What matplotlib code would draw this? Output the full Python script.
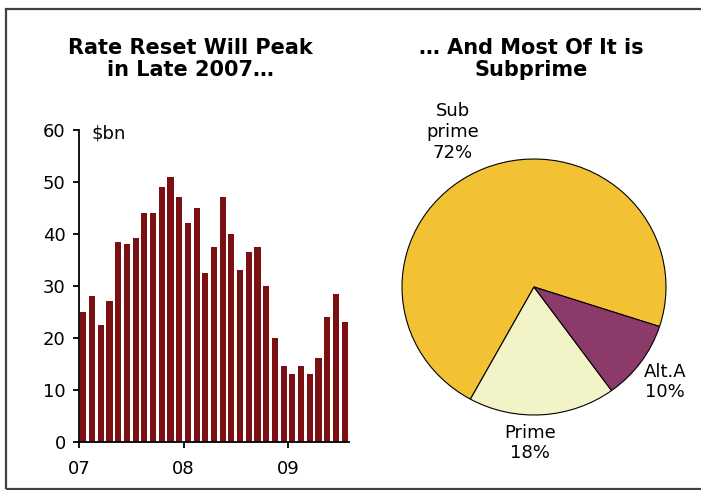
import matplotlib
matplotlib.use("Agg")
import matplotlib.pyplot as plt
from matplotlib.patches import Rectangle
import numpy as np

# Monthly ARM rate resets, Jan 2007 - Jul 2009 ($bn)
reset_values = [25, 28, 22.5, 27, 38.5, 38, 39.2, 44, 44, 49, 51, 47,
                42, 45, 32.5, 37.5, 47, 40, 33, 36.5, 37.5, 30, 20, 14.6,
                13, 14.6, 13, 16, 24, 28.5, 23]
year_ticks = [0, 12, 24]
year_labels = ["07", "08", "09"]
y_ticks = [0, 10, 20, 30, 40, 50, 60]

# Share of resets by loan type
pie_labels = ["Sub\nprime\n72%", "Prime\n18%", "Alt.A\n10%"]
pie_shares = [72, 18, 10]
pie_colors = ["#F2C134", "#F3F3C8", "#8C3A6A"]

BAR_COLOR = "#7A1012"
W, H = 701, 490
FS = 13
TITLE_FS = 15

plt.rcParams["font.family"] = ["DejaVu Sans"]
fig = plt.figure(figsize=(W / 100, H / 100), dpi=100)

def fx(px):
    return px / W

def fy(py):
    return 1 - py / H

# outer frame
fig.patches.append(Rectangle((fx(6), fy(489)), fx(720 - 6), fy(9) - fy(489),
                             transform=fig.transFigure, fill=False,
                             edgecolor="#404040", linewidth=1.6))

# ---- bar chart ----
left, right, top, bottom = 79, 349, 130, 441.5
ax = fig.add_axes([fx(left), fy(bottom), fx(right - left), fy(top) - fy(bottom)])
x = np.arange(len(reset_values)) + 0.5
ax.bar(x, reset_values, width=0.7, color=BAR_COLOR, zorder=2)
ax.set_xlim(0, len(reset_values))
ax.set_ylim(0, 60)
ax.set_yticks(y_ticks)
ax.set_xticks(year_ticks)
ax.set_xticklabels(year_labels)
for s in ["top", "right"]:
    ax.spines[s].set_visible(False)
for s in ["left", "bottom"]:
    ax.spines[s].set_linewidth(1.3)
    ax.spines[s].set_zorder(3)
ax.tick_params(axis="y", direction="out", length=4.5, width=1.3, labelsize=FS, pad=5)
ax.tick_params(axis="x", direction="out", length=4.5, width=1.3, labelsize=FS, pad=8.5)
ax.text(0.045, 0.99, "$bn", transform=ax.transAxes, fontsize=FS,
        ha="left", va="center")

fig.text(fx(190), fy(59), "Rate Reset Will Peak\nin Late 2007…", ha="center",
         va="center", fontsize=TITLE_FS, fontweight="bold", linespacing=1.15)

# ---- pie chart ----
cx, cy, rx, ry = 534, 287, 132, 128
pad = 1.05
pax = fig.add_axes([fx(cx - rx * pad), fy(cy + ry * pad),
                    fx(2 * rx * pad), fy(cy - ry * pad) - fy(cy + ry * pad)])
wedges, _ = pax.pie(pie_shares, colors=pie_colors, startangle=-18,
                    counterclock=True,
                    wedgeprops=dict(edgecolor="black", linewidth=0.8))
pax.set_aspect("auto")
pax.set_xlim(-pad, pad)
pax.set_ylim(-pad, pad)
pax.axis("off")

label_pos = [(453, 132), (530, 443), (665, 382)]
for txt, (px, py) in zip(pie_labels, label_pos):
    fig.text(fx(px), fy(py), txt, ha="center", va="center", fontsize=FS,
             linespacing=1.2)

fig.text(fx(531), fy(59), "… And Most Of It is\nSubprime", ha="center",
         va="center", fontsize=TITLE_FS, fontweight="bold", linespacing=1.15)

fig.savefig("out.png", dpi=100)
